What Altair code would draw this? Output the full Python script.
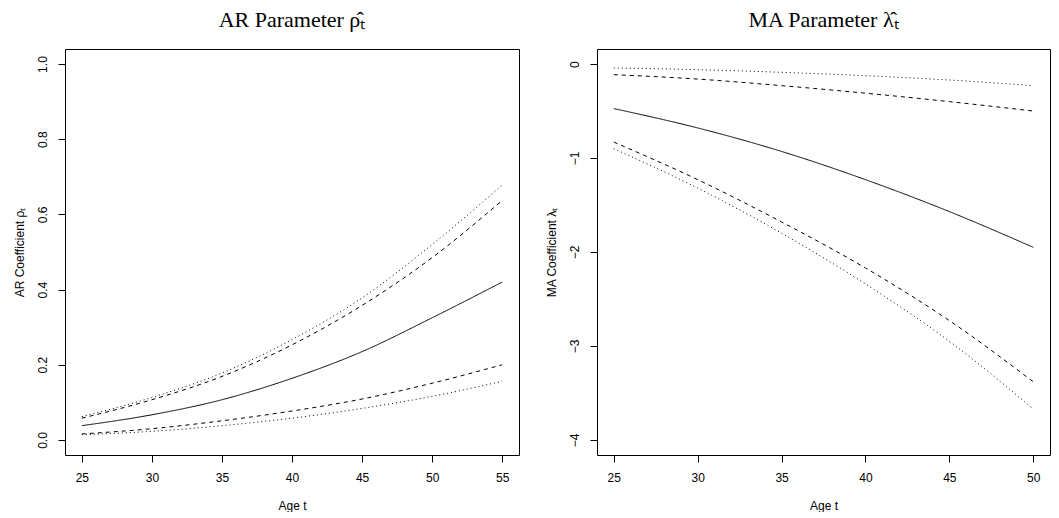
import altair as alt
import pandas as pd

# ---- data ----
ar_age = [25, 30, 35, 40, 45, 50, 55]
ar_est = [0.038, 0.067, 0.107, 0.164, 0.235, 0.325, 0.420]
ar_dash_lo = [0.016, 0.030, 0.051, 0.077, 0.109, 0.151, 0.200]
ar_dot_lo = [0.014, 0.023, 0.038, 0.058, 0.084, 0.116, 0.156]
ar_dash_hi = [0.058, 0.107, 0.169, 0.253, 0.358, 0.485, 0.637]
ar_dot_hi = [0.062, 0.113, 0.178, 0.267, 0.378, 0.520, 0.678]

ma_age = [25, 30, 35, 40, 45, 50]
ma_est = [-0.474, -0.68, -0.93, -1.23, -1.57, -1.95]
ma_dash_hi = [-0.113, -0.16, -0.23, -0.31, -0.40, -0.50]
ma_dot_hi = [-0.042, -0.06, -0.088, -0.124, -0.17, -0.23]
ma_dash_lo = [-0.83, -1.23, -1.68, -2.17, -2.73, -3.38]
ma_dot_lo = [-0.90, -1.32, -1.80, -2.34, -2.95, -3.67]

ar_ticks = [0.0, 0.2, 0.4, 0.6, 0.8, 1.0]
ma_ticks = [0, -1, -2, -3, -4]
ar_xticks = [25, 30, 35, 40, 45, 50, 55]
ma_xticks = [25, 30, 35, 40, 45, 50]

curves = ["est", "dash_hi", "dash_lo", "dot_hi", "dot_lo"]
dashes = [[1, 0], [4, 4], [4, 4], [1, 3], [1, 3]]


def long(age, series):
    rows = []
    for name, vals in series.items():
        for a, v in zip(age, vals):
            rows.append({"age": a, "value": v, "curve": name})
    return pd.DataFrame(rows)


ar_df = long(ar_age, {"est": ar_est, "dash_hi": ar_dash_hi, "dash_lo": ar_dash_lo,
                      "dot_hi": ar_dot_hi, "dot_lo": ar_dot_lo})
ma_df = long(ma_age, {"est": ma_est, "dash_hi": ma_dash_hi, "dash_lo": ma_dash_lo,
                      "dot_hi": ma_dot_hi, "dot_lo": ma_dot_lo})

dash_scale = alt.Scale(domain=curves, range=dashes)


def panel(df, xdom, ydom, xticks, yticks, yfmt, ytitle, title, w, h):
    return alt.Chart(df, title=alt.Title(title)).mark_line(
        color="black", strokeWidth=1, interpolate="monotone"
    ).encode(
        x=alt.X("age:Q", scale=alt.Scale(domain=xdom, nice=False, zero=False),
                axis=alt.Axis(values=xticks, title="Age t", format="d")),
        y=alt.Y("value:Q", scale=alt.Scale(domain=ydom, nice=False, zero=False),
                axis=alt.Axis(values=yticks, title=ytitle, format=yfmt)),
        strokeDash=alt.StrokeDash("curve:N", scale=dash_scale, legend=None),
    ).properties(width=w, height=h)


left = panel(ar_df, [23.8, 56.2], [-0.04, 1.04], ar_xticks, ar_ticks, ".1f",
             "AR Coefficient ρₜ", "AR Parameter ρ̂ₜ", 454, 406)
right = panel(ma_df, [24, 51], [-4.16, 0.16], ma_xticks, ma_ticks, "d",
              "MA Coefficient λₜ", "MA Parameter λ̂ₜ", 453, 406)

chart = alt.hconcat(left, right, spacing=78, bounds="flush").properties(
    padding={"left": 4, "top": 0, "right": 0, "bottom": 0}
).configure_view(
    stroke="black", strokeWidth=1
).configure_axis(
    domain=False, grid=False, tickColor="black", tickSize=7,
    labelFont="Liberation Sans", labelFontSize=12, labelColor="black",
    titleFont="Liberation Sans", titleFontSize=12, titleFontWeight="normal",
    titleColor="black"
).configure_axisY(
    labelAngle=270, labelAlign="center", labelBaseline="bottom", labelPadding=9,
    titlePadding=10
).configure_axisX(
    labelPadding=10, titlePadding=17
).configure_title(
    font="Liberation Serif", fontSize=22, fontWeight="normal", color="black",
    anchor="middle", offset=17
)

chart.save("out.html", embed_options={"renderer": "svg", "actions": False})
